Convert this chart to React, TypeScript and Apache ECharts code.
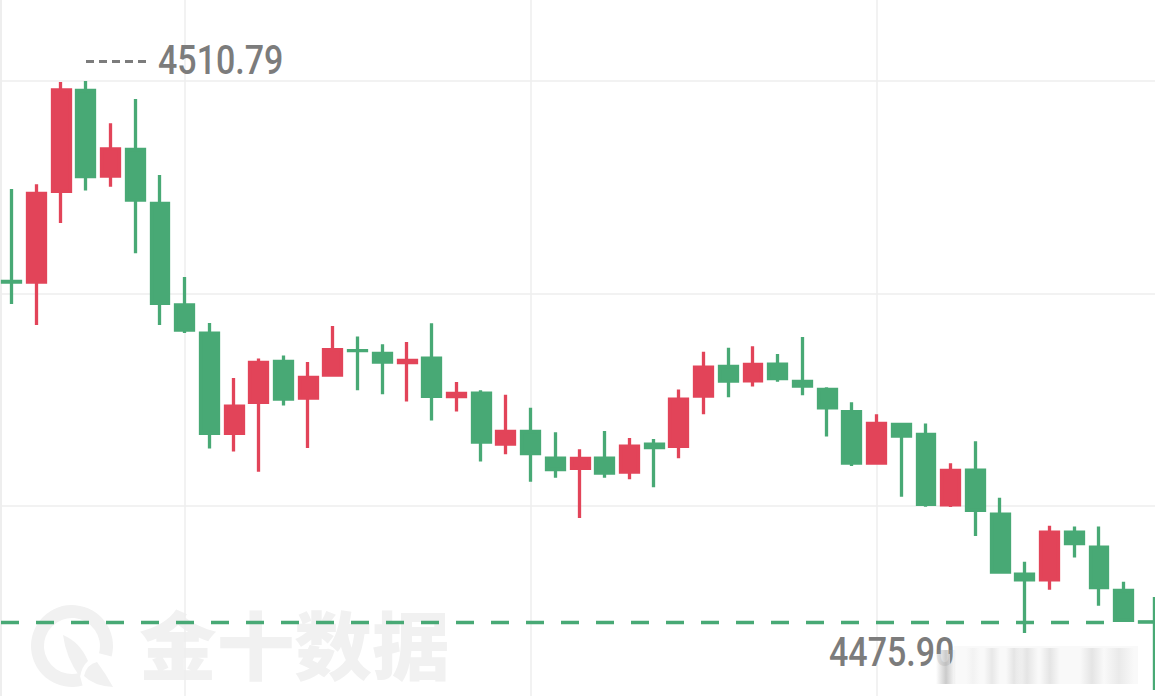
import React, { useEffect, useRef } from "react";
import * as echarts from "echarts";

const WIDTH = 1155;
const HEIGHT = 696;

const opens = [
  4498.12, 4498.07, 4503.82, 4510.19, 4504.77, 4506.46, 4503.05, 4496.64, 4494.85, 4488.51,
  4490.47, 4493.06, 4490.74, 4492.19, 4493.75, 4493.57, 4492.98, 4493.27, 4490.83, 4491.06,
  4487.83, 4488.63, 4486.95, 4486.30, 4486.95, 4486.06, 4487.83, 4487.69, 4490.87, 4492.74,
  4491.84, 4492.89, 4491.80, 4491.29, 4489.88, 4486.63, 4489.08, 4488.45, 4484.00, 4486.19,
  4483.41, 4479.61, 4479.26, 4482.27, 4481.32, 4478.58, 4476.60,
];
const closes = [
  4498.07, 4503.68, 4510.23, 4504.75, 4506.50, 4503.26, 4496.74, 4495.04, 4488.51, 4490.23,
  4493.00, 4490.68, 4492.05, 4493.80, 4493.74, 4493.02, 4493.12, 4490.85, 4491.04, 4487.96,
  4488.63, 4487.24, 4486.23, 4486.93, 4486.00, 4487.71, 4487.62, 4490.68, 4492.70, 4491.81,
  4492.87, 4491.97, 4491.50, 4490.13, 4486.63, 4489.14, 4488.34, 4484.02, 4486.17, 4483.64,
  4479.74, 4479.26, 4482.27, 4481.54, 4478.77, 4476.69, 4476.58,
];
const lows = [
  4496.69, 4495.37, 4501.81, 4503.86, 4504.11, 4499.90, 4495.37, 4494.86, 4487.55, 4487.36,
  4486.09, 4490.27, 4487.59, 4492.10, 4491.24, 4490.99, 4490.52, 4489.32, 4489.89, 4486.73,
  4487.19, 4485.46, 4485.71, 4483.17, 4485.70, 4485.61, 4485.11, 4486.94, 4489.72, 4490.80,
  4491.47, 4491.78, 4490.92, 4488.31, 4486.45, 4486.54, 4484.51, 4483.88, 4483.86, 4482.03,
  4479.65, 4475.90, 4478.63, 4480.66, 4477.62, 4476.59, 4476.58,
];
const highs = [
  4503.96, 4504.26, 4510.73, 4510.79, 4508.12, 4509.65, 4504.85, 4498.40, 4495.49, 4492.02,
  4493.24, 4493.43, 4493.03, 4495.30, 4494.63, 4494.15, 4494.29, 4495.47, 4491.76, 4491.24,
  4490.96, 4490.14, 4488.58, 4487.51, 4488.67, 4488.22, 4488.16, 4491.28, 4493.68, 4493.93,
  4494.02, 4493.53, 4494.61, 4491.43, 4490.48, 4489.72, 4489.17, 4489.13, 4486.62, 4488.02,
  4484.45, 4480.40, 4482.68, 4482.62, 4482.62, 4479.14, 4476.60,
];
const categories = opens.map((_, i) => String(i + 1));
const gridPrices = [4510.79, 4497.36, 4483.93];
const gridCategories = ["8", "22", "36"];
const lastPrice = 4476.59;
const highLabel = "4510.79";
const lowLabel = "4475.90";
const watermark = "金十数据";

const UP = "#e24459";
const DOWN = "#48a975";
const GRID = "#eeeeee";
const LABEL = "#7c7c7c";

const LOGO_RING =
  "M111.6 656.6 A41 41 0 1 0 82.6 685.6 L79.2 673 A28 28 0 1 1 99 653.2 Z";
const LOGO_LEAF = "M63 635 Q80 642 88 661 Q82 666 80 677 Q66 658 63 635 Z";
const LOGO_TIP = "M84 676 Q87 664 97 662 Q106 674 113 687 Q94 686 84 676 Z";

const softBar = (grey: number, alpha: number) =>
  new echarts.graphic.LinearGradient(0, 0, 1, 0, [
    { offset: 0, color: `rgba(${grey},${grey},${grey},0)` },
    { offset: 0.5, color: `rgba(${grey},${grey},${grey},${alpha})` },
    { offset: 1, color: `rgba(${grey},${grey},${grey},0)` },
  ]);

export default function App() {
  const ref = useRef<HTMLDivElement>(null);

  useEffect(() => {
    document.body.style.margin = "0";
    document.body.style.background = "#ffffff";
    echarts.graphic.registerShape("logoRing", echarts.graphic.extendPath(LOGO_RING, {}));
    echarts.graphic.registerShape("logoLeaf", echarts.graphic.extendPath(LOGO_LEAF, {}));
    echarts.graphic.registerShape("logoTip", echarts.graphic.extendPath(LOGO_TIP, {}));

    const chart = echarts.init(ref.current!, undefined, { renderer: "svg" });
    const numberFont = '500 40px Roboto, "Noto Sans", sans-serif';
    const smearBars = [
      [966, 14, 215, 0.2],
      [984, 16, 215, 0.5],
      [1006, 16, 215, 0.6],
      [1016, 22, 215, 0.6],
      [1040, 20, 215, 0.6],
      [1080, 24, 215, 0.6],
      [1104, 30, 215, 0.45],
    ];
    chart.setOption({
      animation: false,
      backgroundColor: "#ffffff",
      grid: { left: 11.7, width: 1136.7, top: 0, height: HEIGHT, containLabel: false },
      xAxis: {
        type: "category",
        data: categories,
        boundaryGap: false,
        axisLine: { show: false },
        axisTick: { show: false },
        axisLabel: { show: false },
        splitLine: { show: false },
      },
      yAxis: {
        type: "value",
        min: 4471.91,
        max: 4515.91,
        axisLine: { show: false },
        axisTick: { show: false },
        axisLabel: { show: false },
        splitLine: { show: false },
      },
      series: [
        {
          name: "grid",
          type: "line",
          data: [],
          z: 1,
          silent: true,
          markLine: {
            silent: true,
            z: 1,
            symbol: "none",
            label: { show: false },
            lineStyle: { color: GRID, width: 1.5, type: "solid" },
            data: [
              ...gridPrices.map((yAxis) => [
                { xAxis: categories[0], yAxis, x: 0 },
                { xAxis: categories[46], yAxis, x: WIDTH },
              ]),
              ...gridCategories.map((xAxis) => ({ xAxis })),
            ],
          },
        },
        {
          name: "price",
          type: "candlestick",
          data: opens.map((o, i) => [o, closes[i], lows[i], highs[i]]),
          barWidth: 18.4,
          clip: false,
          z: 3,
          itemStyle: {
            color: UP,
            color0: DOWN,
            borderColor: UP,
            borderColor0: DOWN,
            borderWidth: 3.3,
          },
        },
        {
          name: "last",
          type: "line",
          data: [],
          z: 4,
          markLine: {
            silent: true,
            z: 4,
            symbol: "none",
            label: { show: false },
            lineStyle: { color: DOWN, width: 3.4, type: [18, 17], dashOffset: 0 },
            data: [
              [
                { x: 1, yAxis: lastPrice },
                { x: 1110, yAxis: lastPrice },
              ],
            ],
          },
        },
      ],
      graphic: [
        { type: "line", z: 0, shape: { x1: 1, y1: 0, x2: 1, y2: HEIGHT }, style: { stroke: GRID, lineWidth: 2 } },
        { type: "logoRing", z: 0, x: 0, y: 0, style: { fill: "#f1f1f1" } },
        { type: "logoLeaf", z: 0, x: 0, y: 0, style: { fill: "#f1f1f1" } },
        { type: "logoTip", z: 0, x: 0, y: 0, style: { fill: "#f1f1f1" } },
        {
          type: "text",
          z: 0,
          x: 139,
          y: 642,
          scaleX: 1.05,
          style: {
            text: watermark,
            fill: "#f1f1f1",
            font: '900 74px "Noto Sans CJK SC", sans-serif',
            textAlign: "left",
            textVerticalAlign: "middle",
          },
        },
        {
          type: "line",
          z: 10,
          shape: { x1: 86, y1: 61.5, x2: 150, y2: 61.5 },
          style: { stroke: LABEL, lineWidth: 3, lineDash: [8, 5] },
        },
        {
          type: "text",
          z: 10,
          x: 158,
          y: 61,
          scaleX: 0.85,
          style: { text: highLabel, fill: LABEL, font: numberFont, textAlign: "left", textVerticalAlign: "middle" },
        },
        {
          type: "text",
          z: 10,
          x: 829,
          y: 653,
          scaleX: 0.85,
          style: { text: lowLabel, fill: LABEL, font: numberFont, textAlign: "left", textVerticalAlign: "middle" },
        },
        {
          type: "rect",
          z: 11,
          shape: { x: 954, y: 646, width: 184, height: 38 },
          style: { fill: "rgba(238,238,238,0.35)" },
        },
        {
          type: "rect",
          z: 11,
          shape: { x: 933, y: 654, width: 17, height: 32 },
          style: { fill: "rgba(255,255,255,0.8)" },
        },
        {
          type: "rect",
          z: 11,
          shape: { x: 936, y: 650, width: 20, height: 34 },
          style: { fill: softBar(160, 0.55) },
        },
        ...smearBars.map(([x, width, grey, alpha]) => ({
          type: "rect",
          z: 11,
          shape: { x, y: 648, width, height: 36 },
          style: { fill: softBar(grey, alpha) },
        })),
        { type: "line", z: 12, shape: { x1: 1154, y1: 597, x2: 1154, y2: 690 }, style: { stroke: DOWN, lineWidth: 2.4 } },
      ],
    });
    return () => chart.dispose();
  }, []);

  return <div ref={ref} style={{ width: WIDTH, height: HEIGHT }} />;
}
